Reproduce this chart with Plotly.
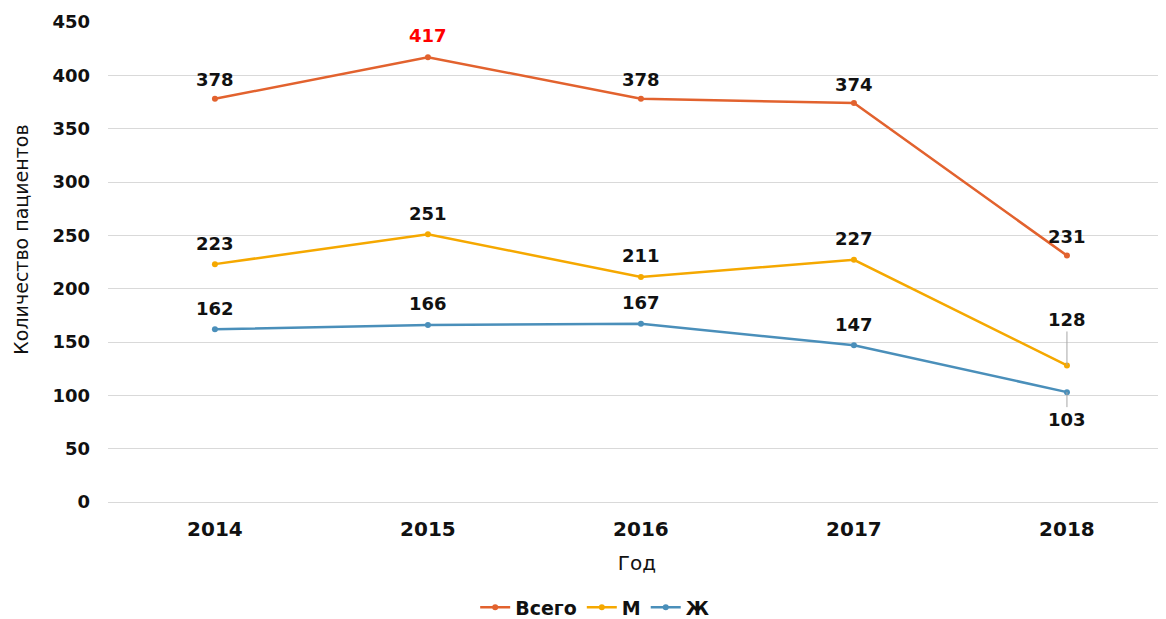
import plotly.graph_objects as go

years = ["2014", "2015", "2016", "2017", "2018"]
total = [378, 417, 378, 374, 231]
male = [223, 251, 211, 227, 128]
female = [162, 166, 167, 147, 103]
series_names = ["Всего", "М", "Ж"]
colors = ["#E2622E", "#F5A800", "#4A8FBA"]

FONT = "DejaVu Sans"
fig = go.Figure()
for name, vals, col in zip(series_names, [total, male, female], colors):
    fig.add_trace(go.Scatter(
        x=years, y=vals, name=name, mode="lines+markers",
        line=dict(color=col, width=2.5),
        marker=dict(color=col, size=6),
    ))

# data labels
label_offsets = {
    "Всего": [19, 22, 19, 19, 19],
    "М": [21, 21, 21, 21, None],
    "Ж": [21, 21, 21, 21, None],
}
annotations = []
for name, vals in zip(series_names, [total, male, female]):
    for i, (yr, v) in enumerate(zip(years, vals)):
        off = label_offsets[name][i]
        color = "#FF0000" if (name == "Всего" and v == max(total)) else "#111111"
        if off is not None:
            annotations.append(dict(x=i, y=v, xref="x", yref="y", text="<b>%d</b>" % v,
                                    showarrow=False, yshift=off,
                                    font=dict(family=FONT, size=18, color=color)))

annotations.append(dict(x=4, y=male[4], xref="x", yref="y", text="<b>%d</b>" % male[4],
                        showarrow=True, arrowhead=0, arrowwidth=1, arrowcolor="#A6A6A6",
                        ax=0, ay=-46, font=dict(family=FONT, size=18, color="#111111")))
annotations.append(dict(x=4, y=female[4], xref="x", yref="y", text="<b>%d</b>" % female[4],
                        showarrow=True, arrowhead=0, arrowwidth=1, arrowcolor="#A6A6A6",
                        ax=0, ay=27, font=dict(family=FONT, size=18, color="#111111")))

# y-axis title
annotations.append(dict(x=-0.0825, y=0.546, xref="paper", yref="paper",
                        text="Количество пациентов", textangle=-90, showarrow=False,
                        xanchor="center", yanchor="middle",
                        font=dict(family=FONT, size=19, color="#111111")))

fig.update_layout(
    width=1158, height=611,
    margin=dict(l=100, r=0, t=14, b=117, autoexpand=False),
    plot_bgcolor="white", paper_bgcolor="white",
    font=dict(family=FONT, color="#111111"),
    showlegend=True,
    annotations=annotations,
    legend=dict(orientation="h", x=0.46, xanchor="center", xref="paper",
                y=-0.18, yanchor="top",
                font=dict(family=FONT, size=19, color="#111111", weight="bold")),
    xaxis=dict(type="category", range=[-0.502, 4.465], showgrid=False,
               showline=False, ticks="", ticklabelstandoff=13, automargin=False,
               tickfont=dict(family=FONT, size=20, color="#111111", weight="bold"),
               title=dict(text="Год", standoff=15,
                          font=dict(family=FONT, size=20, color="#111111"))),
    yaxis=dict(range=[0, 450], dtick=50, showgrid=True, gridcolor="#D9D9D9",
               gridwidth=1, zeroline=True, zerolinecolor="#D9D9D9", zerolinewidth=1,
               showline=False, ticks="", automargin=False,
               ticklabelstandoff=17,
               tickfont=dict(family=FONT, size=18, color="#111111", weight="bold")),
)

fig.write_html("out.html")
